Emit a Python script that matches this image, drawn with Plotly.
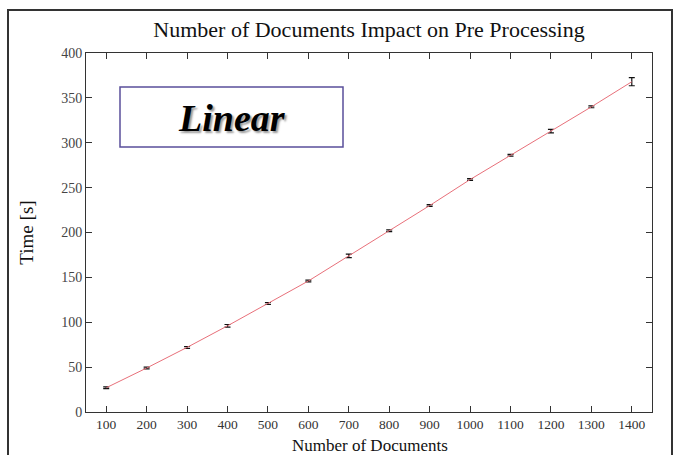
import plotly.graph_objects as go

docs = [100, 200, 300, 400, 500, 600, 700, 800, 900, 1000, 1100, 1200, 1300, 1400]
time_s = [27, 49, 72, 96, 121, 146, 174, 202, 230, 259, 286, 313, 340, 368]
err_s = [1, 1, 1, 1.5, 1, 1, 2, 1, 1, 1, 1, 2, 1, 4.5]
x_ticks = docs
y_ticks = [0, 50, 100, 150, 200, 250, 300, 350, 400]

serif = "Liberation Serif, Times New Roman, serif"

fig = go.Figure()
fig.add_trace(go.Scatter(
    x=docs, y=time_s, mode="lines",
    line=dict(color="#e8707a", width=1),
    error_y=dict(type="data", array=err_s, visible=True, color="#111", thickness=1.2, width=3),
    showlegend=False,
))

W, H = 678, 455
L, R, T, B = 86, 26, 53, 43
pw, ph = W - L - R, H - T - B

def px_x(p):
    return (p - L) / pw
def px_y(p):
    return (H - B - p) / ph

fig.update_layout(
    width=W, height=H,
    margin=dict(l=L, r=R, t=T, b=B, autoexpand=False),
    paper_bgcolor="white", plot_bgcolor="white",
    font=dict(family=serif, color="#222"),
    title=dict(text="Number of Documents Impact on Pre Processing",
               x=0.5, xref="paper", xanchor="center",
               y=1 - 29 / H, yref="container", yanchor="middle",
               font=dict(family=serif, size=22, color="#111")),
    xaxis=dict(range=[50, 1450], tickvals=x_ticks, ticks="inside", ticklen=6,
               mirror="ticks", showline=True, linecolor="#333", linewidth=1,
               showgrid=False, zeroline=False, tickcolor="#333", automargin=False,
               tickfont=dict(size=13.5, family=serif, color="#333")),
    yaxis=dict(range=[0, 400], tickvals=y_ticks, ticks="inside", ticklen=6,
               mirror="ticks", showline=True, linecolor="#333", linewidth=1,
               showgrid=False, zeroline=False, tickcolor="#333", automargin=False,
               tickfont=dict(size=14, family=serif, color="#444"),
               title=dict(text="Time [s]", standoff=22,
                          font=dict(size=19, family=serif, color="#111"))),
)

# x-axis title
fig.add_annotation(text="Number of Documents", xref="paper", yref="paper",
                   x=px_x(370), y=px_y(445), xanchor="center", yanchor="middle",
                   showarrow=False, font=dict(size=17, family=serif, color="#111"))

# outer frame
fig.add_shape(type="rect", xref="paper", yref="paper",
              x0=px_x(8), x1=px_x(672), y0=px_y(470), y1=px_y(10),
              line=dict(color="#333", width=2), layer="below")

# "Linear" box
fig.add_shape(type="rect", xref="paper", yref="paper",
              x0=px_x(120), x1=px_x(343), y0=px_y(147), y1=px_y(87),
              line=dict(color="#5a4f9a", width=1.5), fillcolor="white")
fig.add_annotation(text="<b><i>Linear</i></b>", xref="paper", yref="paper",
                   x=px_x(232), y=px_y(118), xanchor="center", yanchor="middle",
                   showarrow=False,
                   font=dict(family=serif, size=38, color="#000",
                             shadow="2px 2px 2px #999"))

fig.write_html("out.html")
